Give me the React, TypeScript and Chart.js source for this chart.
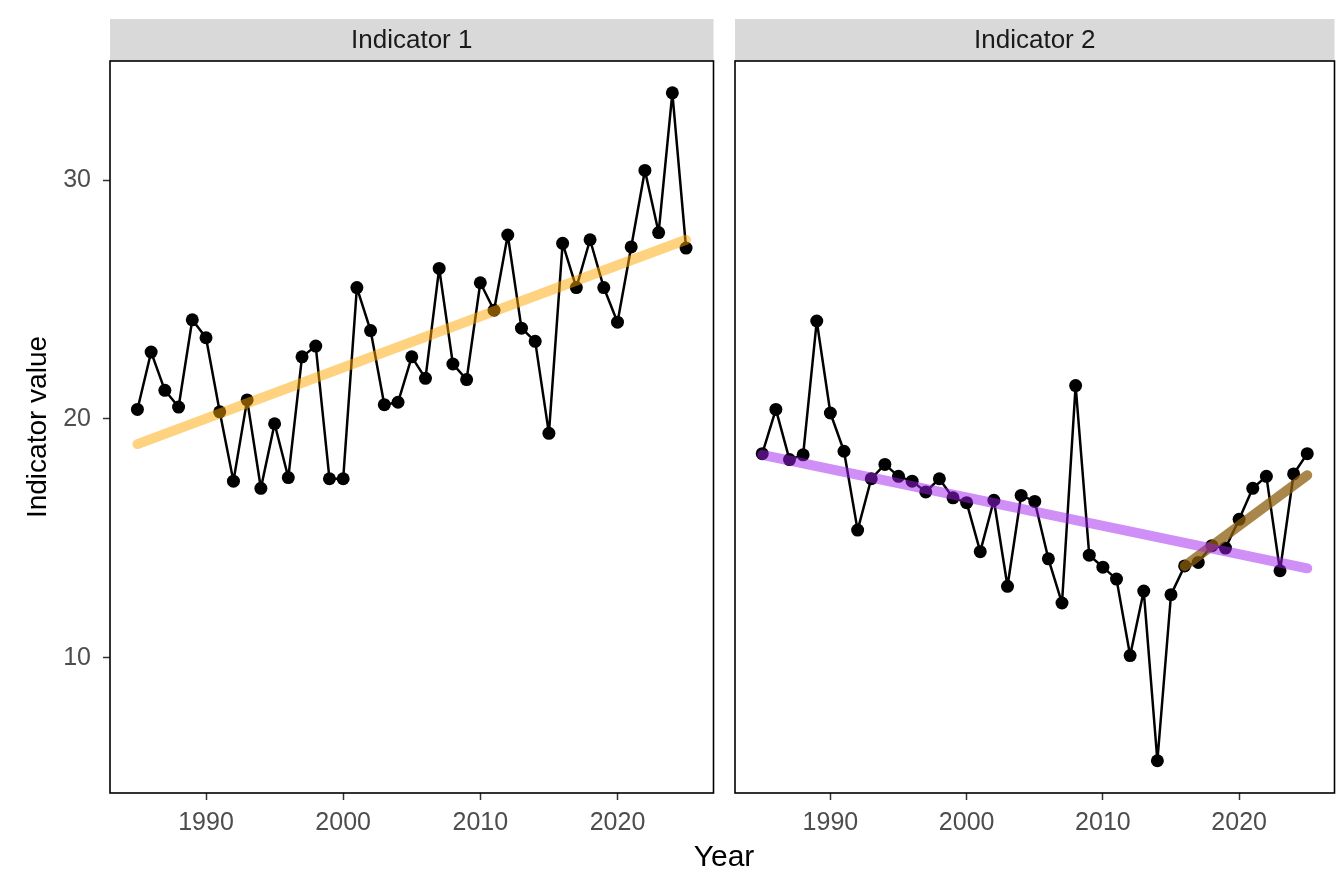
import React, { useEffect, useRef } from "react";
import { Chart, registerables } from "chart.js";

Chart.register(...registerables);

const years = [1985, 1986, 1987, 1988, 1989, 1990, 1991, 1992, 1993, 1994, 1995, 1996, 1997, 1998, 1999, 2000, 2001, 2002, 2003, 2004, 2005, 2006, 2007, 2008, 2009, 2010, 2011, 2012, 2013, 2014, 2015, 2016, 2017, 2018, 2019, 2020, 2021, 2022, 2023, 2024, 2025];

const indicator1 = [20.4, 22.8, 21.2, 20.5, 24.15, 23.4, 20.3, 17.4, 20.8, 17.1, 19.8, 17.55, 22.6, 23.05, 17.5, 17.5, 25.5, 23.7, 20.6, 20.7, 22.6, 21.7, 26.3, 22.3, 21.65, 25.7, 24.55, 27.7, 23.8, 23.25, 19.4, 27.35, 25.5, 27.5, 25.5, 24.05, 27.2, 30.4, 27.8, 33.65, 27.15];

const indicator2 = [18.55, 20.4, 18.3, 18.5, 24.1, 20.25, 18.65, 15.35, 17.5, 18.1, 17.6, 17.4, 16.95, 17.5, 16.7, 16.5, 14.45, 16.6, 13.0, 16.8, 16.55, 14.15, 12.3, 21.4, 14.3, 13.8, 13.3, 10.1, 12.8, 5.7, 12.65, 13.85, 14.0, 14.7, 14.6, 15.8, 17.1, 17.6, 13.65, 17.7, 18.55];

const trend1Years = [1985, 2025];
const trend1Values = [18.95, 27.5];
const trend2Years = [1985, 2025];
const trend2Values = [18.5, 13.75];
const trend2bYears = [2016, 2025];
const trend2bValues = [13.85, 17.65];

const panelLabels = ["Indicator 1", "Indicator 2"];
const xTicks = [1990, 2000, 2010, 2020];
const yTicks = [10, 20, 30];

const FONT = "'Liberation Sans', Arial, sans-serif";

const toXY = (xs: number[], ys: number[]) => xs.map((x, i) => ({ x, y: ys[i] }));

const facetPlugin = {
  id: "facet",
  beforeDraw(chart: any, _args: any, opts: any) {
    const { ctx, chartArea } = chart;
    ctx.save();
    ctx.fillStyle = "#D9D9D9";
    ctx.fillRect(chartArea.left, 19, chartArea.right - chartArea.left, chartArea.top - 19);
    ctx.fillStyle = "#1A1A1A";
    ctx.font = `26px ${FONT}`;
    ctx.textAlign = "center";
    ctx.textBaseline = "middle";
    ctx.fillText(opts.label, (chartArea.left + chartArea.right) / 2, (19 + chartArea.top) / 2 + 1);
    ctx.restore();
  },
  afterDraw(chart: any) {
    const { ctx, chartArea } = chart;
    ctx.save();
    ctx.strokeStyle = "#000000";
    ctx.lineWidth = 1.6;
    ctx.strokeRect(chartArea.left, chartArea.top, chartArea.right - chartArea.left, chartArea.bottom - chartArea.top);
    ctx.restore();
  },
};

function makeConfig(label: string, values: number[], trends: { xs: number[]; ys: number[]; color: string }[], showY: boolean, padding: any) {
  const trendSets = trends.map((t) => ({
    data: toXY(t.xs, t.ys),
    borderColor: t.color,
    backgroundColor: t.color,
    borderWidth: 10,
    borderCapStyle: "round",
    pointRadius: 0,
    showLine: true,
    order: 0,
  }));
  return {
    type: "scatter",
    data: {
      datasets: [
        ...trendSets,
        {
          data: toXY(years, values),
          borderColor: "#000000",
          backgroundColor: "#000000",
          borderWidth: 2.5,
          borderJoinStyle: "round",
          pointRadius: 6.5,
          pointBorderWidth: 0,
          showLine: true,
          order: 1,
        },
      ],
    },
    options: {
      animation: false,
      responsive: false,
      maintainAspectRatio: false,
      layout: { padding },
      plugins: {
        legend: { display: false },
        tooltip: { enabled: false },
        facet: { label },
      },
      scales: {
        x: {
          type: "linear",
          min: 1983,
          max: 2027,
          afterBuildTicks: (axis: any) => {
            axis.ticks = xTicks.map((v) => ({ value: v }));
          },
          afterFit: (axis: any) => {
            axis.height = 79;
          },
          border: { display: false },
          grid: { display: true, drawOnChartArea: false, drawTicks: true, tickLength: 7, tickColor: "#333333", tickWidth: 1.5 },
          ticks: {
            color: "#4D4D4D",
            font: { family: FONT, size: 25 },
            padding: 8,
            maxRotation: 0,
            callback: (v: any) => String(v),
          },
        },
        y: {
          type: "linear",
          min: 4.35,
          max: 34.98,
          display: showY,
          afterBuildTicks: (axis: any) => {
            axis.ticks = yTicks.map((v) => ({ value: v }));
          },
          afterFit: (axis: any) => {
            axis.width = showY ? 110 : 0;
          },
          border: { display: false },
          grid: { display: true, drawOnChartArea: false, drawTicks: true, tickLength: 7, tickColor: "#333333", tickWidth: 1.5 },
          ticks: {
            color: "#4D4D4D",
            font: { family: FONT, size: 25 },
            padding: 12,
            callback: (v: any) => String(v),
          },
          title: {
            display: true,
            text: "Indicator value",
            color: "#000000",
            font: { family: FONT, size: 28 },
            padding: { top: 21, bottom: 0 },
          },
        },
      },
    },
    plugins: [facetPlugin],
  };
}

function Panel({ config, left, width }: { config: any; left: number; width: number }) {
  const ref = useRef<HTMLCanvasElement | null>(null);
  useEffect(() => {
    if (!ref.current) return;
    const chart = new Chart(ref.current, config);
    return () => chart.destroy();
  }, []);
  return (
    <canvas
      ref={ref}
      width={width}
      height={872}
      style={{ position: "absolute", left, top: 0, width, height: 872 }}
    />
  );
}

export default function App() {
  const cfg1 = makeConfig(
    panelLabels[0],
    indicator1,
    [{ xs: trend1Years, ys: trend1Values, color: "rgba(255,165,0,0.5)" }],
    true,
    { left: 0, top: 61, right: 6, bottom: 0 }
  );
  const cfg2 = makeConfig(
    panelLabels[1],
    indicator2,
    [
      { xs: trend2Years, ys: trend2Values, color: "rgba(160,32,240,0.5)" },
      { xs: trend2bYears, ys: trend2bValues, color: "rgba(140,95,15,0.75)" },
    ],
    false,
    { left: 15, top: 61, right: 3, bottom: 0 }
  );
  return (
    <div style={{ position: "absolute", left: 0, top: 0, width: 1341, height: 872, background: "#FFFFFF", overflow: "hidden" }}>
      <Panel config={cfg1} left={0} width={720} />
      <Panel config={cfg2} left={720} width={621} />
      <div
        style={{
          position: "absolute",
          left: 624,
          width: 200,
          top: 838,
          textAlign: "center",
          fontFamily: FONT,
          fontSize: 30,
          lineHeight: "36px",
          color: "#000000",
        }}
      >
        Year
      </div>
    </div>
  );
}
